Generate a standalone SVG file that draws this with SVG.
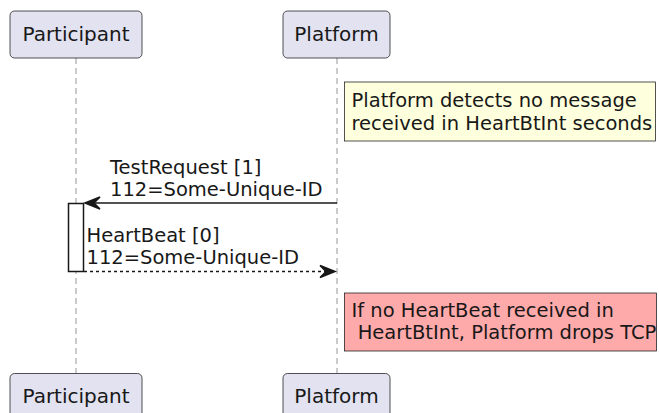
<svg xmlns="http://www.w3.org/2000/svg" width="659" height="413" viewBox="0 0 659 413">
  <style>
    .box { fill: #E2E2F0; stroke: #181818; stroke-width: 0.75; }
    .life { stroke: #181818; stroke-opacity: 0.6; stroke-width: 0.75; stroke-dasharray: 6,4; fill: none; }
    .pname { font-family: "DejaVu Sans", sans-serif; font-size: 20px; fill: #181818; text-anchor: middle; }
    .lbl { font-family: "DejaVu Sans", sans-serif; font-size: 19.5px; fill: #181818; }
    .msg { stroke: #181818; stroke-width: 1.5; fill: none; }
    .ret { stroke: #181818; stroke-width: 1.5; fill: none; stroke-dasharray: 3,3; }
    .head { fill: #181818; stroke: #181818; stroke-width: 1.5; }
    .act { fill: #FFFFFF; stroke: #181818; stroke-width: 1.5; }
    .note { stroke: #181818; stroke-width: 0.75; }
  </style>

  <!-- lifelines -->
  <g id="lifelines">
    <line class="life" x1="76" y1="58" x2="76" y2="373"/>
    <line class="life" x1="337" y1="58" x2="337" y2="373"/>
  </g>

  <g id="participant">
    <rect class="box" x="10" y="11" width="132" height="47" rx="4.5"/>
    <text class="pname" x="76" y="41">Participant</text>
    <rect class="box" x="10" y="373.5" width="132" height="47" rx="4.5"/>
    <text class="pname" x="76" y="403">Participant</text>
  </g>

  <g id="platform">
    <rect class="box" x="283" y="11" width="107" height="47" rx="4.5"/>
    <text class="pname" x="336.5" y="41">Platform</text>
    <rect class="box" x="283" y="373.5" width="107" height="47" rx="4.5"/>
    <text class="pname" x="336.5" y="403">Platform</text>
  </g>

  <g id="note-detect">
    <rect class="note" x="344.5" y="82" width="311" height="59" fill="#FEFFDD"/>
    <text class="lbl" x="351.5" y="107">Platform detects no message</text>
    <text class="lbl" x="351.5" y="129.5">received in HeartBtInt seconds</text>
  </g>

  <g id="activation">
    <rect class="act" x="68.5" y="203.5" width="15" height="68"/>
  </g>

  <g id="connectors">
    <line class="msg" x1="337" y1="203" x2="87" y2="203"/>
    <polygon class="head" points="85,203 100,197 94,203 100,209"/>
    <text class="lbl" x="110" y="173.5">TestRequest [1]</text>
    <text class="lbl" x="110" y="196">112=Some-Unique-ID</text>

    <line class="ret" x1="84" y1="271.5" x2="333" y2="271.5"/>
    <polygon class="head" points="335,271.5 320,265.5 326,271.5 320,277.5"/>
    <text class="lbl" x="86.5" y="242">HeartBeat [0]</text>
    <text class="lbl" x="86.5" y="263.5">112=Some-Unique-ID</text>
  </g>

  <g id="note-drop">
    <rect class="note" x="344.5" y="293" width="312" height="58" fill="#FFAAAA"/>
    <text class="lbl" x="351.5" y="317" xml:space="preserve">If no HeartBeat received in</text>
    <text class="lbl" x="351.5" y="339" xml:space="preserve"> HeartBtInt, Platform drops TCP</text>
  </g>
</svg>
